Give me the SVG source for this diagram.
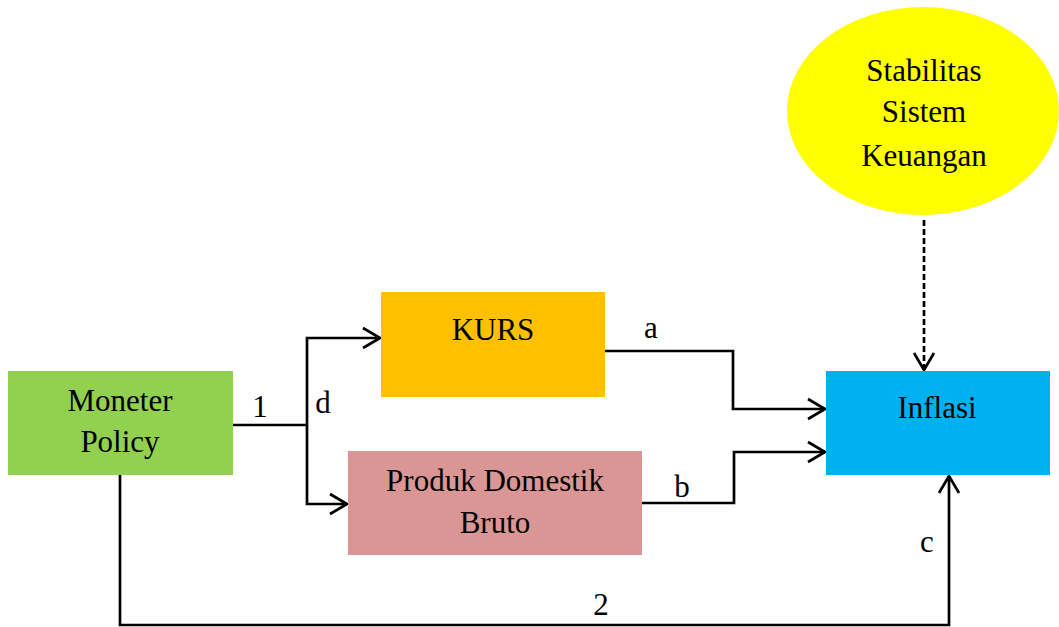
<svg xmlns="http://www.w3.org/2000/svg" width="1059" height="627" viewBox="0 0 1059 627">
<style>
text{font-family:"Liberation Serif","Times New Roman",serif;font-size:31px;fill:#000;text-anchor:middle}
.ln{fill:none;stroke:#000;stroke-width:2.7}
.dash{stroke-dasharray:6 3}
</style>
<defs>
<marker id="arr" viewBox="0 0 20 24" refX="19" refY="12" markerWidth="20" markerHeight="24" markerUnits="userSpaceOnUse" orient="auto">
<path d="M2,2 L19,12 L2,22" fill="none" stroke="#000" stroke-width="2.7"/>
</marker>
</defs>
<rect width="1059" height="627" fill="#fff"/>
<g id="connectors">
<path class="ln" d="M233,425 H307"/>
<path class="ln" d="M307,425 V338 H380" marker-end="url(#arr)"/>
<path class="ln" d="M307,425 V504 H347" marker-end="url(#arr)"/>
<path class="ln" d="M605,351 H733 V409 H825" marker-end="url(#arr)"/>
<path class="ln" d="M642,503 H734 V452 H825" marker-end="url(#arr)"/>
<path class="ln dash" d="M924,220 V370" marker-end="url(#arr)"/>
<path class="ln" d="M120,475 V625 H949 V476" marker-end="url(#arr)"/>
<text x="260" y="417">1</text>
<text x="323" y="413">d</text>
<text x="651" y="338">a</text>
<text x="682" y="497">b</text>
<text x="927" y="552">c</text>
<text x="601" y="615">2</text>
</g>
<g id="moneter">
<rect x="8" y="371" width="225" height="104" fill="#92D050"/>
<text x="120" y="411">Moneter</text>
<text x="120" y="452">Policy</text>
</g>
<g id="kurs">
<rect x="381" y="292" width="224" height="105" fill="#FFC000"/>
<text x="493" y="340">KURS</text>
</g>
<g id="pdb">
<rect x="348" y="451" width="294" height="104" fill="#DA9694"/>
<text x="495" y="491">Produk Domestik</text>
<text x="495" y="533">Bruto</text>
</g>
<g id="inflasi">
<rect x="826" y="371" width="224" height="104" fill="#00B0F0"/>
<text x="937" y="418">Inflasi</text>
</g>
<g id="stabilitas">
<ellipse cx="923" cy="111" rx="136" ry="104" fill="#FFFF00"/>
<text x="924" y="81">Stabilitas</text>
<text x="924" y="122">Sistem</text>
<text x="924" y="166">Keuangan</text>
</g>
</svg>
